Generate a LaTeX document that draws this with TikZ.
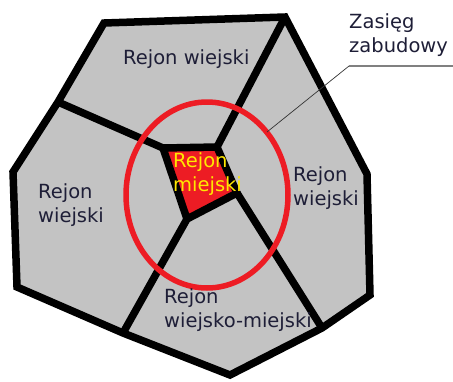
\documentclass[tikz,border=0pt]{standalone}
\usepackage{fontspec}
\setmainfont{DejaVu Sans}
\definecolor{mapgray}{RGB}{195,195,195}
\definecolor{cityred}{RGB}{237,28,36}
\definecolor{cityyellow}{RGB}{255,232,0}
\definecolor{labelink}{RGB}{30,30,55}
\usepackage{tikz}
\usetikzlibrary{calc}

\begin{document}
\begin{tikzpicture}[x=1pt,y=-1pt,
  border/.style={line width=7.5pt,line join=miter},
  zone/.style={font=\fontsize{19.5}{24.5}\selectfont,text=labelink,align=left,anchor=west,inner sep=0pt}]
  \useasboundingbox (0,0) rectangle (453,381);
  \coordinate (A) at (104,23);
  \coordinate (B) at (285,17);
  \coordinate (C) at (367,174);
  \coordinate (D) at (370,295);
  \coordinate (E) at (322,328);
  \coordinate (F) at (230,375);
  \coordinate (G) at (123,333);
  \coordinate (H) at (17,287);
  \coordinate (I) at (13,172);
  \coordinate (P) at (58,102);
  \coordinate (Q1) at (163,148);
  \coordinate (Q2) at (217,147);
  \coordinate (Q3) at (237,193);
  \coordinate (Q4) at (187,219);
  \fill[mapgray] (A) -- (B) -- (C) -- (D) -- (E) -- (F) -- (G) -- (H) -- (I) -- (P) -- cycle;
  \fill[cityred] (Q1) -- (Q2) -- (Q3) -- (Q4) -- cycle;
  \draw[border] (A) -- (B) -- (C) -- (D) -- (E) -- (F) -- (G) -- (H) -- (I) -- (P) -- cycle;
  \draw[border] (Q1) -- (Q2) -- (Q3) -- (Q4) -- cycle;
  \draw[border] (Q2) -- (B);
  \draw[border] (Q1) -- (P);
  \draw[border] (Q4) -- (G);
  \draw[border] (Q3) -- (E);
  \draw[cityred,line width=5.5pt] (207,195) ellipse [x radius=81,y radius=93];
  \coordinate (hit) at (267,132);
  \node[zone] (north) at (123,59) {Rejon wiejski};
  \node[zone] (west) at (38,205) {Rejon\\wiejski};
  \node[zone] (east) at (293,188) {Rejon\\wiejski};
  \node[zone] (south) at (164,310) {Rejon\\wiejsko-miejski};
  \node[zone,text=cityyellow] (city) at (173,174) {Rejon\\miejski};
  \node[zone] (reach) at (349,35) {Zasięg\\zabudowy};
  \coordinate (tail) at (349,66);
  \draw[gray,line width=1.5pt] (tail) -- (453,66);
  \draw[black!80,line width=0.7pt] (tail) -- (hit);
\end{tikzpicture}
\end{document}
